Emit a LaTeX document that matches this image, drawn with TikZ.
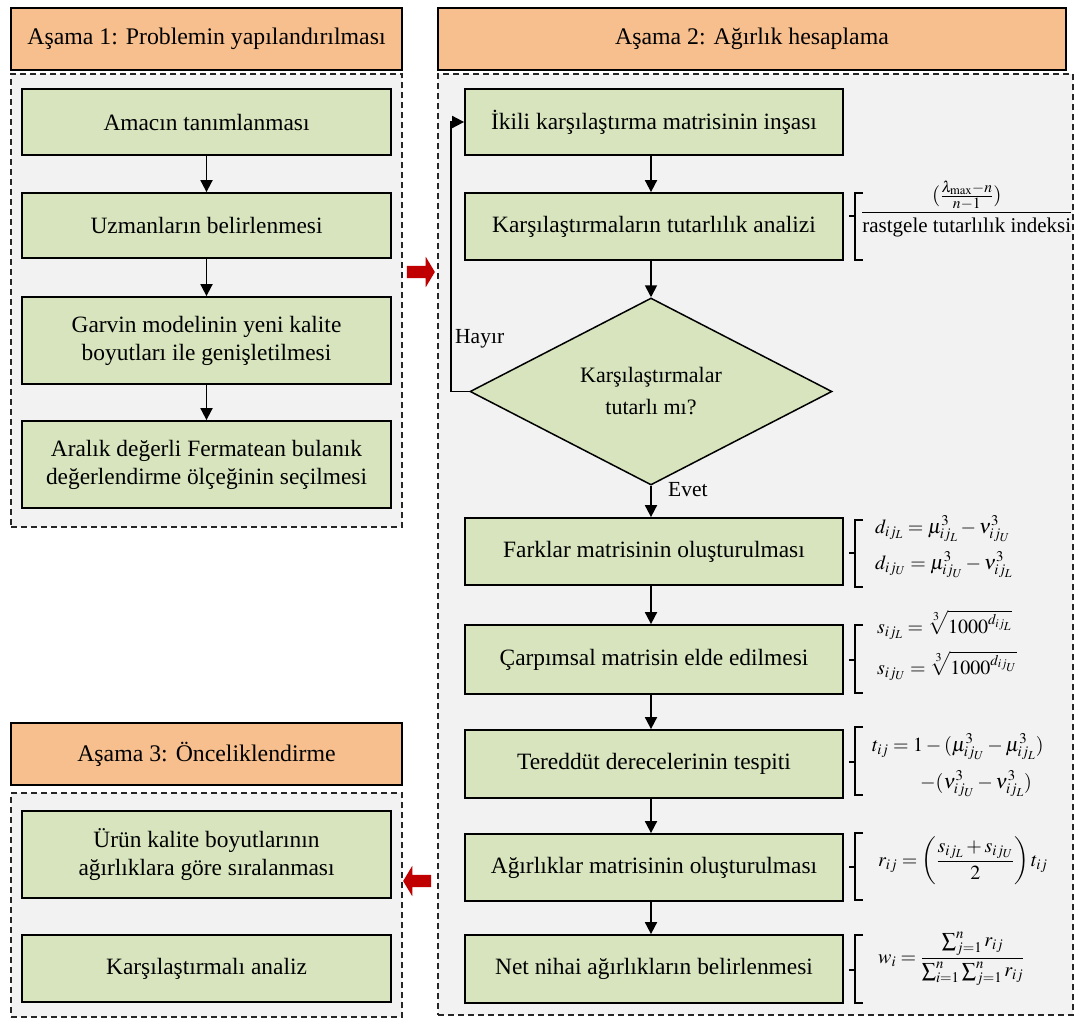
\documentclass[tikz,border=0pt]{standalone}
\usepackage{amsmath}
\usepackage{mathptmx}
\usepackage[no-math]{fontspec}
\setmainfont{Liberation Serif}
\usetikzlibrary{shapes.geometric,shapes.arrows,arrows.meta}
\definecolor{boxgreen}{HTML}{D7E4BD}
\definecolor{headorange}{HTML}{F8BF8E}
\definecolor{contgray}{HTML}{F2F2F2}
\definecolor{redarrow}{HTML}{C00000}
\tikzset{
  header/.style={draw=black, line width=1.8pt, fill=headorange, inner sep=0pt, font=\fontsize{23.8}{28}\selectfont},
  cont/.style={draw=black!85, dashed, dash pattern=on 6pt off 4pt, line width=1.3pt, fill=contgray, inner sep=0pt},
  box/.style={draw=black, line width=1.8pt, fill=boxgreen, align=center, inner sep=0pt, font=\fontsize{23.4}{28}\selectfont},
  dia/.style={diamond, draw=black, line width=1.5pt, fill=boxgreen, align=center, inner sep=0pt, font=\fontsize{22}{32}\selectfont},
  arr/.style={line width=1.8pt, -{Triangle[length=12pt,width=12pt]}},
  redarr/.style={single arrow, fill=redarrow, draw=none, inner sep=6pt, minimum height=28pt, single arrow head extend=9pt, single arrow tip angle=118},
  lbl/.style={inner sep=0pt, font=\fontsize{21.5}{24}\selectfont},
  fml/.style={inner sep=0pt, anchor=base west, font=\fontsize{20}{24}\selectfont},
  brc/.style={line width=1.6pt, black}
}
\newcommand\mybrace[3]{\draw[brc] (863,#1) -- (855,#1) -- (855,#3) -- (863,#3) (855,#2) -- (849,#2);}
\begin{document}
\begin{tikzpicture}[x=1pt,y=-1pt]
\useasboundingbox[fill=white] (0,0) rectangle (1074,1018);
% headers
\node[header, minimum width=391pt, minimum height=62pt] (h1) at (206.5,39) {Aşama 1: Problemin yapılandırılması};
\node[header, minimum width=628pt, minimum height=62pt] (h2) at (752,39) {Aşama 2: Ağırlık hesaplama};
\node[header, minimum width=391pt, minimum height=62pt] (h3) at (206.5,754) {Aşama 3: Önceliklendirme};
% containers
\node[cont, minimum width=391pt, minimum height=453pt] (c1) at (206.5,300.5) {};
\node[cont, minimum width=635pt, minimum height=941pt] (c2) at (755.5,544.5) {};
\node[cont, minimum width=391pt, minimum height=224pt] (c3) at (206.5,905) {};
% stage 1
\node[box, minimum width=369pt, minimum height=66pt] (a1) at (206.5,122) {Amacın tanımlanması};
\node[box, minimum width=369pt, minimum height=65pt] (a2) at (206.5,225.5) {Uzmanların belirlenmesi};
\node[box, minimum width=369pt, minimum height=87pt] (a3) at (206.5,340.5) {Garvin modelinin yeni kalite\\boyutları ile genişletilmesi};
\node[box, minimum width=369pt, minimum height=87pt] (a4) at (206.5,464.5) {Aralık değerli Fermatean bulanık\\değerlendirme ölçeğinin seçilmesi};
% stage 2
\node[box, minimum width=378pt, minimum height=66pt] (b1) at (654,122) {İkili karşılaştırma matrisinin inşası};
\node[box, minimum width=378pt, minimum height=67pt] (b2) at (654,226.5) {Karşılaştırmaların tutarlılık analizi};
\node[dia, minimum width=362pt, minimum height=187pt, aspect=1.936] (d) at (651,391.5) {Karşılaştırmalar\\tutarlı mı?};
\node[box, minimum width=378pt, minimum height=67pt] (b3) at (654,551.5) {Farklar matrisinin oluşturulması};
\node[box, minimum width=378pt, minimum height=69pt] (b4) at (654,659.5) {Çarpımsal matrisin elde edilmesi};
\node[box, minimum width=378pt, minimum height=68pt] (b5) at (654,764) {Tereddüt derecelerinin tespiti};
\node[box, minimum width=378pt, minimum height=67pt] (b6) at (654,867.5) {Ağırlıklar matrisinin oluşturulması};
\node[box, minimum width=378pt, minimum height=68pt] (b7) at (654,969) {Net nihai ağırlıkların belirlenmesi};
% stage 3
\node[box, minimum width=369pt, minimum height=87pt] (e1) at (206.5,854.5) {Ürün kalite boyutlarının\\ağırlıklara göre sıralanması};
\node[box, minimum width=369pt, minimum height=67pt] (e2) at (206.5,968.5) {Karşılaştırmalı analiz};
% red arrows
\node[redarr] (r1) at (419,272) {};
\node[redarr, shape border rotate=180] (r2) at (419,881) {};
% connectors
\draw[arr] (a1) -- (a2);
\draw[arr] (a2) -- (a3);
\draw[arr] (a3) -- (a4);
\draw[arr] (b1.south -| d.north) -- (b2.north -| d.north);
\draw[arr] (b2.south -| d.north) -- (d.north);
\draw[arr] (d.south) -- (b3.north -| d.south);
\draw[arr] (b3.south -| d.south) -- (b4.north -| d.south);
\draw[arr] (b4.south -| d.south) -- (b5.north -| d.south);
\draw[arr] (b5.south -| d.south) -- (b6.north -| d.south);
\draw[arr] (b6.south -| d.south) -- (b7.north -| d.south);
\draw[arr] (d.west) -- ([xshift=-18pt]d.west) |- (b1.west);
\node[lbl, anchor=west] (hayir) at (455,339) {Hayır};
\node[lbl, anchor=west] (evet) at (668,490) {Evet};
% braces and formulas
\mybrace{193}{216}{260}
\node[fml, font=\fontsize{21}{24}\selectfont] (f1) at (861,218) {$\dfrac{(\frac{\lambda_{\max}-n}{n-1})}{\text{rastgele tutarlılık indeksi}}$};
\mybrace{520}{553}{587}
\node[fml] (f2a) at (875,533) {$d_{ij_L}=\mu^3_{ij_L}-\nu^3_{ij_U}$};
\node[fml] (f2b) at (875,569) {$d_{ij_U}=\mu^3_{ij_U}-\nu^3_{ij_L}$};
\mybrace{625}{660}{693}
\node[fml] (f3a) at (877,633) {$s_{ij_L}=\sqrt[3]{1000^{d_{ij_L}}}$};
\node[fml] (f3b) at (877,674) {$s_{ij_U}=\sqrt[3]{1000^{d_{ij_U}}}$};
\mybrace{727}{762}{795}
\node[fml] (f4a) at (872,751) {$t_{ij}=1-(\mu^3_{ij_U}-\mu^3_{ij_L})$};
\node[fml] (f4b) at (920,788) {$-(\nu^3_{ij_U}-\nu^3_{ij_L})$};
\mybrace{833}{867}{900}
\node[fml] (f5) at (878,866) {$r_{ij}=\left(\dfrac{s_{ij_L}+s_{ij_U}}{2}\right)t_{ij}$};
\mybrace{935}{970}{1003}
\node[fml] (f6) at (878,963) {$w_i=\dfrac{\sum_{j=1}^{n} r_{ij}}{\sum_{i=1}^{n}\sum_{j=1}^{n} r_{ij}}$};
\end{tikzpicture}
\end{document}
